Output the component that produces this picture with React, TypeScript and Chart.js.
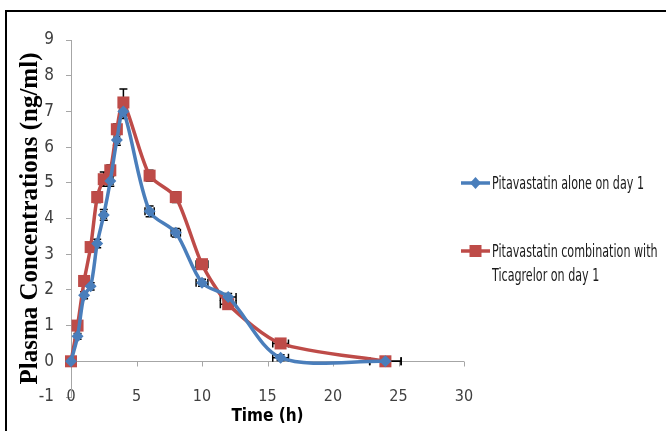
import React, { useEffect, useRef } from "react";
import { Chart, registerables } from "chart.js";

Chart.register(...registerables);

// ---- data ----
const timeH = [0, 0.5, 1, 1.5, 2, 2.5, 3, 3.5, 4, 6, 8, 10, 12, 16, 24];
const aloneConc = [0, 0.7, 1.85, 2.1, 3.3, 4.1, 5.05, 6.2, 7.0, 4.2, 3.6, 2.2, 1.8, 0.1, 0];
const comboConc = [0, 1.0, 2.25, 3.2, 4.6, 5.1, 5.35, 6.5, 7.25, 5.2, 4.6, 2.72, 1.6, 0.5, 0];
const aloneYErr = [0, 0.08, 0.1, 0.1, 0.12, 0.15, 0.15, 0.15, 0.2, 0.15, 0.12, 0.1, 0.1, 0.08, 0];
const comboYErr = [0, 0.08, 0.1, 0.12, 0.15, 0.2, 0.15, 0.15, 0.38, 0.15, 0.15, 0.12, 0.1, 0.1, 0];
const timeXErr = [0, 0.1, 0.1, 0.15, 0.15, 0.2, 0.2, 0.2, 0.25, 0.35, 0.35, 0.45, 0.6, 0.6, 1.2];
const seriesLabels = [
  "Pitavastatin alone on day 1",
  "Pitavastatin combination with Ticagrelor on day 1",
];
const comboLegendLines = ["Pitavastatin combination with", "Ticagrelor on day 1"];
const xTickValues = [0, 5, 10, 15, 20, 25, 30];
const yAxisTitle = "Plasma Concentrations (ng/ml)";
const xAxisTitle = "Time (h)";

const BLUE = "#4A7EBB";
const RED = "#BE4B48";
const NARROW = "'Liberation Sans Narrow', 'DejaVu Sans Condensed', 'Liberation Sans', sans-serif";

const errorBarPlugin = {
  id: "errorBars",
  beforeDatasetsDraw(chart: any) {
    const ctx = chart.ctx;
    const xs = chart.scales.x;
    const ys = chart.scales.y;
    const errs = [aloneYErr, comboYErr];
    const vals = [aloneConc, comboConc];
    ctx.save();
    ctx.strokeStyle = "#000";
    ctx.lineWidth = 1.5;
    for (let d = 0; d < 2; d++) {
      for (let j = 0; j < timeH.length; j++) {
        const x = xs.getPixelForValue(timeH[j]);
        const y = ys.getPixelForValue(vals[d][j]);
        const ye = errs[d][j];
        const xe = timeXErr[j];
        ctx.beginPath();
        if (ye > 0) {
          const y1 = ys.getPixelForValue(vals[d][j] + ye);
          const y2 = ys.getPixelForValue(vals[d][j] - ye);
          ctx.moveTo(x, y1); ctx.lineTo(x, y2);
          ctx.moveTo(x - 4, y1); ctx.lineTo(x + 4, y1);
          ctx.moveTo(x - 4, y2); ctx.lineTo(x + 4, y2);
        }
        if (xe > 0) {
          const x1 = xs.getPixelForValue(timeH[j] - xe);
          const x2 = xs.getPixelForValue(timeH[j] + xe);
          ctx.moveTo(x1, y); ctx.lineTo(x2, y);
          ctx.moveTo(x1, y - 4); ctx.lineTo(x1, y + 4);
          ctx.moveTo(x2, y - 4); ctx.lineTo(x2, y + 4);
        }
        ctx.stroke();
      }
    }
    ctx.restore();
  },
};

const zeroAxisPlugin = {
  id: "zeroAxis",
  beforeDatasetsDraw(chart: any) {
    const ctx = chart.ctx;
    const xs = chart.scales.x;
    const ys = chart.scales.y;
    const y0 = Math.round(ys.getPixelForValue(0)) + 0.5;
    ctx.save();
    ctx.strokeStyle = "#A6A6A6";
    ctx.lineWidth = 1;
    ctx.beginPath();
    ctx.moveTo(chart.chartArea.left, y0);
    ctx.lineTo(chart.chartArea.right, y0);
    for (const v of xTickValues) {
      if (v === 0) continue;
      const x = Math.round(xs.getPixelForValue(v)) + 0.5;
      ctx.moveTo(x, y0);
      ctx.lineTo(x, y0 + 5);
    }
    ctx.stroke();
    ctx.restore();
  },
};

const legendPlugin = {
  id: "sideLegend",
  afterDraw(chart: any) {
    const ctx = chart.ctx;
    const items = [
      { color: BLUE, y: 183, lines: [chart.data.datasets[0].label], shape: "diamond" },
      { color: RED, y: 251, lines: comboLegendLines, shape: "square" },
    ];
    ctx.save();
    ctx.font = `17px ${NARROW}`;
    const sx = 152 / ctx.measureText(items[0].lines[0]).width;
    for (const it of items) {
      ctx.strokeStyle = it.color;
      ctx.lineWidth = 3.5;
      ctx.beginPath();
      ctx.moveTo(461, it.y);
      ctx.lineTo(490, it.y);
      ctx.stroke();
      ctx.fillStyle = it.color;
      ctx.beginPath();
      if (it.shape === "diamond") {
        ctx.moveTo(475.5, it.y - 6);
        ctx.lineTo(481, it.y);
        ctx.lineTo(475.5, it.y + 6);
        ctx.lineTo(470, it.y);
        ctx.closePath();
      } else {
        ctx.rect(469.5, it.y - 6, 12, 12);
      }
      ctx.fill();
      ctx.fillStyle = "#1a1a1a";
      ctx.textBaseline = "middle";
      ctx.textAlign = "left";
      it.lines.forEach((ln: string, k: number) => {
        ctx.save();
        ctx.translate(492, it.y + 2 + k * 24);
        ctx.scale(sx, 1);
        ctx.fillText(ln, 0, 0);
        ctx.restore();
      });
    }
    ctx.restore();
  },
};

export default function App() {
  const ref = useRef<HTMLCanvasElement | null>(null);
  useEffect(() => {
    if (!ref.current) return;
    const chart = new Chart(ref.current, {
      type: "line",
      data: {
        datasets: [
          {
            label: seriesLabels[0],
            data: timeH.map((t, i) => ({ x: t, y: aloneConc[i] })),
            borderColor: BLUE,
            backgroundColor: BLUE,
            borderWidth: 3.5,
            pointStyle: "rectRot",
            pointRadius: 6,
            pointBorderWidth: 0,
            tension: 0.3,
            clip: false,
          },
          {
            label: seriesLabels[1],
            data: timeH.map((t, i) => ({ x: t, y: comboConc[i] })),
            borderColor: RED,
            backgroundColor: RED,
            borderWidth: 3.5,
            pointStyle: "rect",
            pointRadius: 8.5,
            pointBorderWidth: 0,
            tension: 0.25,
            clip: false,
          },
        ],
      },
      options: {
        animation: false,
        responsive: false,
        layout: { padding: { left: 0, top: 40, right: 202, bottom: 34 } },
        plugins: { legend: { display: false }, tooltip: { enabled: false } },
        scales: {
          x: {
            type: "linear",
            position: { y: -1 },
            min: 0,
            max: 30,
            afterFit: (s: any) => { s.height = 34; },
            afterBuildTicks: (s: any) => { s.ticks = xTickValues.map((v) => ({ value: v })); },
            grid: { display: false, drawTicks: false },
            border: { display: false },
            ticks: { padding: -10, color: "#404040", font: { family: NARROW, size: 16 } },
            title: {
              display: true,
              text: xAxisTitle,
              color: "#000",
              font: { family: NARROW, size: 17, weight: "bold" },
              padding: { top: 0, bottom: 4 },
            },
          },
          y: {
            type: "linear",
            min: -1,
            max: 9,
            afterFit: (s: any) => { s.width = 71; },
            ticks: { stepSize: 1, padding: 12, color: "#404040", font: { family: NARROW, size: 17 } },
            grid: { drawOnChartArea: false, tickColor: "#A6A6A6", tickLength: 5 },
            border: { display: true, color: "#A6A6A6", width: 1 },
            title: {
              display: true,
              text: yAxisTitle,
              color: "#000",
              font: { family: "'Liberation Serif', 'Times New Roman', serif", size: 25, weight: "bold" },
              padding: { top: 16, bottom: 0 },
            },
          },
        },
      },
      plugins: [zeroAxisPlugin, errorBarPlugin, legendPlugin],
    });
    return () => chart.destroy();
  }, []);
  return (
    <div style={{ position: "absolute", left: 0, top: 0, width: 666, height: 431, overflow: "hidden", background: "#fff" }}>
      <div
        style={{
          position: "absolute",
          left: 5,
          top: 10,
          width: 700,
          height: 500,
          borderLeft: "2px solid #000",
          borderTop: "2px solid #000",
        }}
      />
      <canvas ref={ref} width={666} height={431} style={{ position: "absolute", left: 0, top: 0 }} />
    </div>
  );
}
